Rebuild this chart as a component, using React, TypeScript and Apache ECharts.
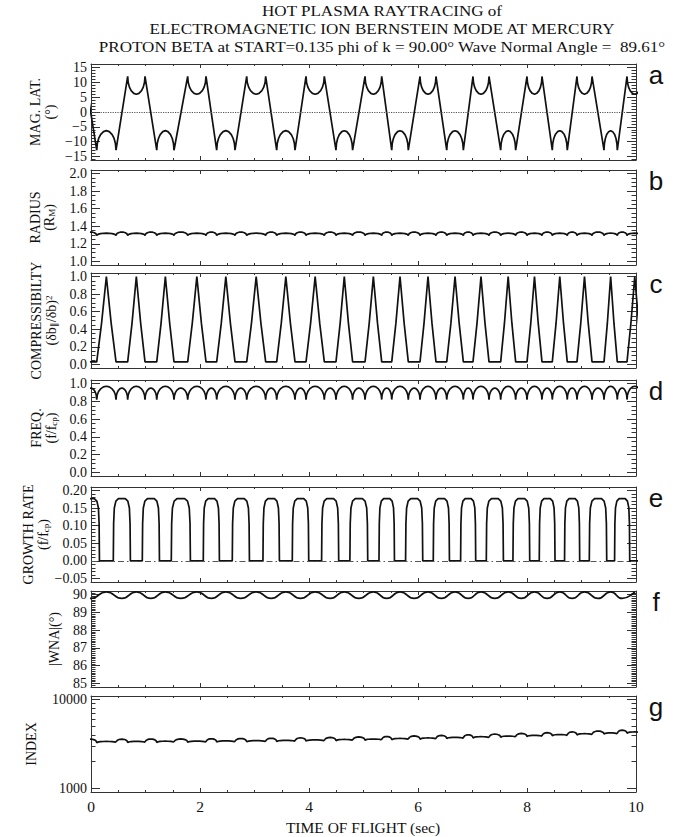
import React, { useEffect, useRef } from "react";
import * as echarts from "echarts";

// ---------------- data ----------------
// Cusp times (s) bounding each latitude "U" arc; even index = northern arc, odd = southern arc.
// (index 0 is the arc that ends just before t = 0)
const uStart = [-0.43, 0.105, 0.673, 1.206, 1.774, 2.306, 2.857, 3.407, 3.945, 4.495, 5.028, 5.518, 6.037, 6.527, 7.009, 7.517, 8.0, 8.464, 8.917, 9.413, 9.835];
const uEnd = [-0.11, 0.459, 0.991, 1.523, 2.11, 2.642, 3.205, 3.743, 4.281, 4.8, 5.334, 5.822, 6.33, 6.832, 7.303, 7.792, 8.275, 8.739, 9.193, 9.657, 10.12];

// shape of a cusp-to-cusp arc: position along arc / fraction of the way to the turning value
const arcPos = [0, 0.03, 0.1, 0.2, 0.35, 0.5, 0.65, 0.8, 0.9, 0.97, 1];
const arcLift = [0, 0.34, 0.6, 0.8, 0.95, 1, 0.95, 0.8, 0.6, 0.34, 0];

// (a) magnetic latitude (deg): [north, south]
const latCusp = [12.0, -12.9];
const latTurn = [6.0, -6.3];

// (b) radius (R_M): cusp dip, level inside arcs, hump during crossings
const radiusLevels = [1.295, 1.322, 1.335];

// (c) compressibility: floor, peak; triangle shape
const compLevels = [0.03, 1.0];
const triPos = [0, 0.25, 0.5, 0.75, 1];
const triLift = [0, 0.45, 1, 0.45, 0];

// (d) f/f_cp: cusp, arc top, crossing arc top
const freqLevels = [0.82, 0.97, 0.95];

// (e) growth rate: peak and padding (s) of each hump around a crossing
const growthPeak = 0.177;
const growthPad = 0.05;
const humpPos = [0, 0.02, 0.06, 0.15, 0.3, 0.5, 0.7, 0.85, 0.94, 0.98, 1];
const humpLift = [0, 0.6, 0.85, 0.96, 1, 1, 1, 0.96, 0.85, 0.6, 0];

// (f) |WNA| (deg): at arc centres, at crossings
const wnaLevels = [90.15, 89.78];

// (g) refractive index level in each arc, dip and hump factors
const indexLevel = [3380, 3380, 3390, 3400, 3410, 3430, 3450, 3480, 3520, 3560, 3600, 3650, 3700, 3760, 3820, 3890, 3960, 4040, 4130, 4220, 4320];
const indexDip = 0.97;
const indexHump = 1.06;

// axis tick labels
const latTicks = [-15, -10, -5, 0, 5, 10, 15];
const radiusTicks = [1.0, 1.2, 1.4, 1.6, 1.8, 2.0];
const unitTicks = [0, 0.2, 0.4, 0.6, 0.8, 1.0];
const growthTicks = [-0.05, 0, 0.05, 0.1, 0.15, 0.2];
const wnaTicks = [85, 86, 87, 88, 89, 90];
const indexTicks = [1000, 10000];
const timeTicksInterval = 2;

// ---------------- series construction ----------------
type Pt = [number, number];
function arcSegment(out: Pt[], t0: number, t1: number, v0: number, v1: number, top: number, pos: number[], lift: number[]) {
  for (let k = 0; k < pos.length; k++) {
    const t = t0 + pos[k] * (t1 - t0);
    const base = v0 + pos[k] * (v1 - v0);
    out.push([t, base + lift[k] * (top - base)]);
  }
}
const n = uStart.length;

const latData: Pt[] = [];
for (let i = 0; i < n; i++) {
  const h = i % 2;
  arcSegment(latData, uStart[i], uEnd[i], latCusp[h], latCusp[h], latTurn[h], arcPos, arcLift);
}

const radiusData: Pt[] = [];
for (let i = 0; i < n; i++) {
  arcSegment(radiusData, uStart[i], uEnd[i], radiusLevels[0], radiusLevels[0], radiusLevels[1], arcPos, arcLift);
  if (i + 1 < n) arcSegment(radiusData, uEnd[i], uStart[i + 1], radiusLevels[0], radiusLevels[0], radiusLevels[2], arcPos, arcLift);
}

const compData: Pt[] = [];
for (let i = 0; i < n; i++) {
  arcSegment(compData, uStart[i], uEnd[i], compLevels[0], compLevels[0], compLevels[1], triPos, triLift);
}

const freqData: Pt[] = [];
for (let i = 0; i < n; i++) {
  arcSegment(freqData, uStart[i], uEnd[i], freqLevels[0], freqLevels[0], freqLevels[1], arcPos, arcLift);
  if (i + 1 < n) arcSegment(freqData, uEnd[i], uStart[i + 1], freqLevels[0], freqLevels[0], freqLevels[2], arcPos, arcLift);
}

const growthData: Pt[] = [[-0.6, 0]];
for (let i = 0; i + 1 < n; i++) {
  arcSegment(growthData, uEnd[i] - growthPad, uStart[i + 1] + growthPad, 0, 0, growthPeak, humpPos, humpLift);
}
growthData.push([10.6, 0]);

const wnaData: Pt[] = [];
for (let i = 0; i < n; i++) {
  wnaData.push([(uStart[i] + uEnd[i]) / 2, wnaLevels[0]]);
  if (i + 1 < n) wnaData.push([(uEnd[i] + uStart[i + 1]) / 2, wnaLevels[1]]);
}

const indexData: Pt[] = [];
for (let i = 0; i < n; i++) {
  const L = indexLevel[i];
  arcSegment(indexData, uStart[i], uEnd[i], L * indexDip, L * indexDip, L, arcPos, arcLift);
  if (i + 1 < n) {
    const L2 = indexLevel[i + 1];
    arcSegment(indexData, uEnd[i], uStart[i + 1], L * indexDip, L2 * indexDip, ((L + L2) / 2) * indexHump, arcPos, arcLift);
  }
}

// ---------------- layout / style ----------------
const serif = "'Liberation Serif', 'Times New Roman', Times, serif";
const sans = "'Liberation Sans', Arial, Helvetica, sans-serif";
const ink = "#111";
const axisColor = "#333";
const PLOT_LEFT = 91;
const PLOT_WIDTH = 545;
const panelTops = [64, 170, 273, 380, 487, 591, 696];
const panelHeights = [96, 95, 95, 96, 95, 96, 96];
const tickFont = 14;

function steps(a: number, b: number, s: number): number[] {
  const out: number[] = [];
  const cnt = Math.round((b - a) / s);
  for (let i = 0; i <= cnt; i++) out.push(+(a + i * s).toFixed(6));
  return out;
}
const minus = (s: string) => s.replace("-", "\u2212");

type Panel = {
  letter: string;
  data: Pt[];
  min: number;
  max: number;
  major: number[];
  minor: number[];
  fmt: (v: number) => string;
  names: string[];
  nameX: number[];
  smooth?: number;
  log?: boolean;
  zeroLine?: any;
};

const log10 = (v: number) => Math.log(v) / Math.LN10;

const panels: Panel[] = [
  { letter: "a", data: latData, min: -16.2, max: 16.2, major: latTicks, minor: steps(-16, 16, 1), fmt: (v) => minus(String(v)), names: ["MAG. LAT.", "(°)"], nameX: [35.5, 50], zeroLine: "dotted" },
  { letter: "b", data: radiusData, min: 0.96, max: 2.04, major: radiusTicks, minor: steps(1.0, 2.0, 0.05), fmt: (v) => v.toFixed(1), names: ["RADIUS", "{n|(R}{sb|M}{n|)}"], nameX: [35, 49.5] },
  { letter: "c", data: compData, min: -0.04, max: 1.04, major: unitTicks, minor: steps(0, 1, 0.05), fmt: (v) => v.toFixed(1), names: ["COMPRESSIBILTY", "{n|(δb}{sb|∥}{n|/δb)}{sp|2}"], nameX: [36.5, 51] },
  { letter: "d", data: freqData, min: -0.04, max: 1.04, major: unitTicks, minor: steps(0, 1, 0.05), fmt: (v) => v.toFixed(1), names: ["FREQ.", "{n|(f/f}{sb|cp}{n|)}"], nameX: [36.5, 51] },
  { letter: "e", data: growthData, min: -0.06, max: 0.21, major: growthTicks, minor: steps(-0.06, 0.21, 0.01), fmt: (v) => minus(v.toFixed(2)), names: ["GROWTH RATE", "{n|(f/f}{sb|cp}{n|)}"], nameX: [28.5, 43.5], zeroLine: [6, 3, 1.5, 3] },
  { letter: "f", data: wnaData, min: 84.8, max: 90.2, major: wnaTicks, minor: steps(84.8, 90.2, 0.1), fmt: (v) => String(v), names: ["|WNA|(°)"], nameX: [54], smooth: 0.55 },
  { letter: "g", data: indexData, min: 912, max: 10965, major: indexTicks, minor: [2000, 3000, 4000, 5000, 6000, 7000, 8000, 9000], fmt: (v) => String(Math.round(v)), names: ["INDEX"], nameX: [31.5], log: true },
];

const titleLines = [
  "HOT PLASMA RAYTRACING of",
  "ELECTROMAGNETIC ION BERNSTEIN MODE AT MERCURY",
  "PROTON BETA at START=0.135 phi of k = 90.00° Wave Normal Angle =  89.61°",
];

function buildOption() {
  const grid: any[] = [];
  const xAxis: any[] = [];
  const yAxis: any[] = [];
  const series: any[] = [];
  const graphic: any[] = [];
  const lineLS = { color: axisColor, width: 1 };
  const tickLS = { color: axisColor, width: 1 };

  panels.forEach((p, k) => {
    const top = panelTops[k];
    const h = panelHeights[k];
    const last = k === panels.length - 1;
    grid.push({ left: PLOT_LEFT, top, width: PLOT_WIDTH, height: h, containLabel: false });

    const xb = { gridIndex: k, type: "value", min: 0, max: 10, splitLine: { show: false } };
    xAxis.push({
      ...xb, position: "bottom", interval: timeTicksInterval,
      axisLine: { show: true, onZero: false, lineStyle: lineLS },
      axisTick: { show: true, inside: true, length: 4, lineStyle: tickLS },
      axisLabel: { show: last, margin: 6, fontSize: 15.5, fontFamily: serif, color: ink },
    });
    xAxis.push({ ...xb, position: "bottom", interval: 0.5, axisLine: { show: false, onZero: false }, axisTick: { show: true, inside: true, length: 2, lineStyle: tickLS }, axisLabel: { show: false } });
    xAxis.push({ ...xb, position: "top", interval: timeTicksInterval, axisLine: { show: true, onZero: false, lineStyle: lineLS }, axisTick: { show: true, inside: true, length: 4, lineStyle: tickLS }, axisLabel: { show: false } });
    xAxis.push({ ...xb, position: "top", interval: 0.5, axisLine: { show: false, onZero: false }, axisTick: { show: true, inside: true, length: 2, lineStyle: tickLS }, axisLabel: { show: false } });

    const isMajorLog = (v: number) => Math.abs(log10(v) - Math.round(log10(v))) < 1e-6 && v > 950 && v < 10500;
    const mainY = p.log
      ? { gridIndex: k, type: "log", logBase: 10, min: p.min, max: p.max, splitLine: { show: false } }
      : { gridIndex: k, type: "value", min: p.min, max: p.max, splitLine: { show: false } };
    const majorTick = p.log
      ? { show: true, inside: true, length: 9, lineStyle: tickLS }
      : { show: true, inside: true, length: 9, lineStyle: tickLS, customValues: p.major };
    const labelCfg = p.log
      ? { show: true, margin: 4, fontSize: tickFont, fontFamily: serif, color: ink, formatter: (v: number) => (isMajorLog(v) ? String(Math.round(v)) : "") }
      : { show: true, margin: 4, fontSize: tickFont, fontFamily: serif, color: ink, customValues: p.major, formatter: p.fmt };
    const minorY = p.log
      ? { gridIndex: k, type: "value", min: log10(p.min), max: log10(p.max), splitLine: { show: false } }
      : { gridIndex: k, type: "value", min: p.min, max: p.max, splitLine: { show: false } };
    const minorVals = p.log ? p.minor.map(log10) : p.minor;

    yAxis.push({ ...mainY, position: "left", axisLine: { show: true, onZero: false, lineStyle: lineLS }, axisTick: majorTick, axisLabel: labelCfg });
    yAxis.push({ ...minorY, position: "left", axisLine: { show: false, onZero: false }, axisTick: { show: true, inside: true, length: 4.5, lineStyle: tickLS, customValues: minorVals }, axisLabel: { show: false } });
    yAxis.push({ ...mainY, position: "right", axisLine: { show: true, onZero: false, lineStyle: lineLS }, axisTick: majorTick, axisLabel: { show: false } });
    yAxis.push({ ...minorY, position: "right", axisLine: { show: false, onZero: false }, axisTick: { show: true, inside: true, length: 4.5, lineStyle: tickLS, customValues: minorVals }, axisLabel: { show: false } });

    const s: any = {
      type: "line",
      xAxisIndex: 4 * k,
      yAxisIndex: 4 * k,
      data: p.data,
      showSymbol: false,
      symbol: "none",
      clip: true,
      smooth: p.smooth || false,
      lineStyle: { color: ink, width: 1.7 },
      silent: true,
      z: 3,
    };
    if (p.zeroLine) {
      s.markLine = {
        silent: true,
        symbol: ["none", "none"],
        label: { show: false },
        lineStyle: { color: "#555", width: 1.2, type: p.zeroLine },
        data: [{ yAxis: 0 }],
      };
    }
    series.push(s);

    // y titles (rotated)
    const midY = top + h / 2;
    p.names.forEach((txt, j) => {
      graphic.push({
        type: "text",
        x: p.nameX[j],
        y: midY,
        rotation: Math.PI / 2,
        style: {
          text: txt,
          fontSize: 14,
          fontFamily: serif,
          fill: ink,
          align: "center",
          verticalAlign: "middle",
          rich: {
            n: { fontSize: 14, fontFamily: serif, fill: ink },
            sb: { fontSize: 9, fontFamily: serif, fill: ink, verticalAlign: "bottom", lineHeight: 10 },
            sp: { fontSize: 9, fontFamily: serif, fill: ink, verticalAlign: "top", lineHeight: 10 },
          },
        },
      });
    });

    // panel letter
    graphic.push({
      type: "text",
      x: 656,
      y: top + 11,
      style: { text: p.letter, fontSize: 26, fontFamily: sans, fill: ink, align: "center", verticalAlign: "middle" },
    });
  });

  const titleY = [10.5, 28.5, 46.5];
  titleLines.forEach((t, i) => {
    graphic.push({
      type: "text",
      x: 382,
      y: titleY[i],
      scaleX: 1.1,
      style: { text: t, fontSize: 15.5, fontFamily: serif, fill: ink, align: "center", verticalAlign: "middle" },
    });
  });
  graphic.push({
    type: "text",
    x: 363,
    y: 827,
    style: { text: "TIME OF FLIGHT (sec)", fontSize: 15.5, fontFamily: serif, fill: ink, align: "center", verticalAlign: "middle" },
  });

  return {
    animation: false,
    backgroundColor: "#fff",
    grid,
    xAxis,
    yAxis,
    series,
    graphic,
  };
}

export default function App() {
  const ref = useRef<HTMLDivElement>(null);
  useEffect(() => {
    if (!ref.current) return;
    const chart = echarts.init(ref.current, null, { renderer: "svg" });
    chart.setOption(buildOption() as any);
    return () => chart.dispose();
  }, []);
  return (
    <div
      ref={ref}
      style={{ position: "fixed", left: 0, top: 0, width: 681, height: 837, background: "#fff" }}
    />
  );
}
